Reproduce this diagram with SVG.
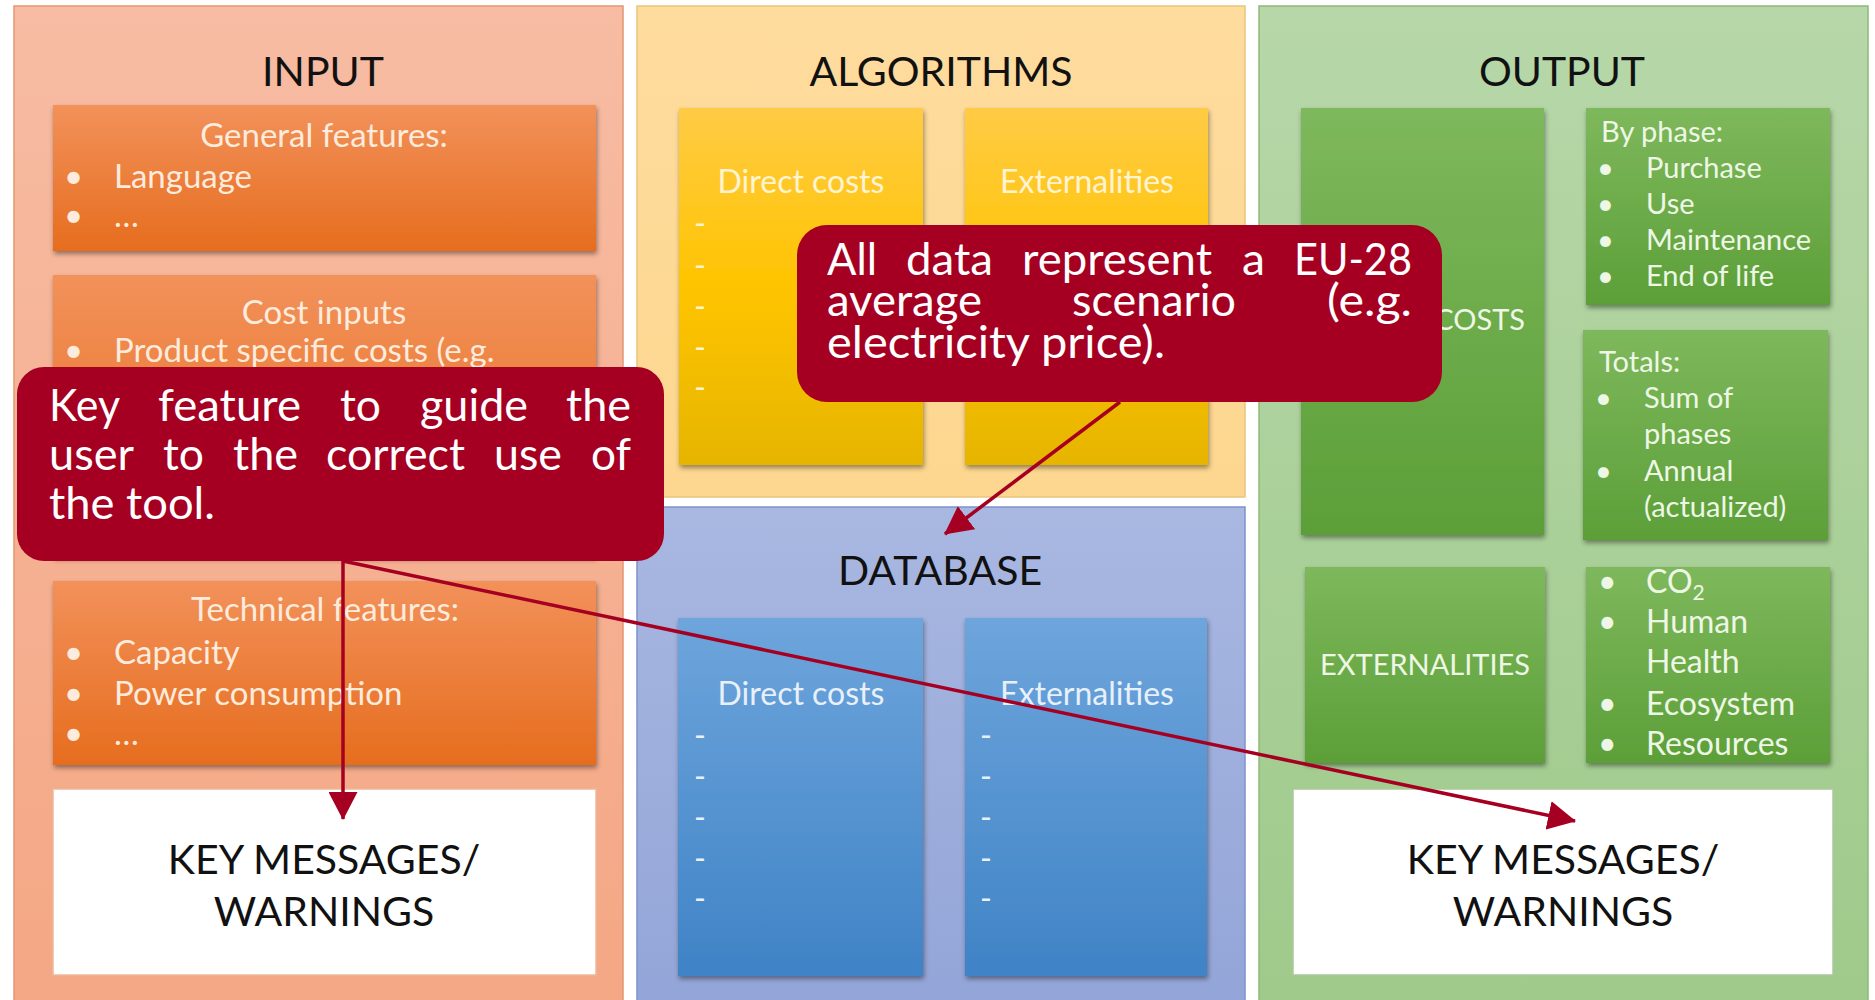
<svg xmlns="http://www.w3.org/2000/svg" width="1875" height="1000" viewBox="0 0 1875 1000">
  <defs>
    <linearGradient id="gInputPanel" x1="0" y1="0" x2="0" y2="1">
      <stop offset="0" stop-color="#F7BCA3"/>
      <stop offset="1" stop-color="#F4A784"/>
    </linearGradient>
    <linearGradient id="gAlgoPanel" x1="0" y1="0" x2="0" y2="1">
      <stop offset="0" stop-color="#FEDC9E"/>
      <stop offset="1" stop-color="#FDD78F"/>
    </linearGradient>
    <linearGradient id="gDbPanel" x1="0" y1="0" x2="0" y2="1">
      <stop offset="0" stop-color="#A9B8E1"/>
      <stop offset="1" stop-color="#93A5D8"/>
    </linearGradient>
    <linearGradient id="gOutPanel" x1="0" y1="0" x2="0" y2="1">
      <stop offset="0" stop-color="#B7D7A9"/>
      <stop offset="1" stop-color="#9FCA8B"/>
    </linearGradient>
    <linearGradient id="gOrange" x1="0" y1="0" x2="0" y2="1">
      <stop offset="0" stop-color="#F2915A"/>
      <stop offset="1" stop-color="#E66D1E"/>
    </linearGradient>
    <linearGradient id="gYellow" x1="0" y1="0" x2="0" y2="1">
      <stop offset="0" stop-color="#FFCB45"/>
      <stop offset="0.5" stop-color="#FFC400"/>
      <stop offset="1" stop-color="#E6B500"/>
    </linearGradient>
    <linearGradient id="gBlue" x1="0" y1="0" x2="0" y2="1">
      <stop offset="0" stop-color="#6EA5DC"/>
      <stop offset="1" stop-color="#3F83C6"/>
    </linearGradient>
    <linearGradient id="gGreen" x1="0" y1="0" x2="0" y2="1">
      <stop offset="0" stop-color="#7EB85C"/>
      <stop offset="1" stop-color="#5C9F38"/>
    </linearGradient>
    <filter id="shadow" x="-5%" y="-5%" width="112%" height="115%">
      <feDropShadow dx="1" dy="3" stdDeviation="2.5" flood-color="#000" flood-opacity="0.4"/>
    </filter>
    <marker id="arrow" markerUnits="userSpaceOnUse" markerWidth="28" markerHeight="29" refX="27" refY="14.5" orient="auto">
      <path d="M0,0 L28,14.5 L0,29 z" fill="#A50021"/>
    </marker>
  </defs>
  <style>
    text { font-family: Lato, "Liberation Sans", sans-serif; }
    .title { font-size: 41px; fill: #111; text-anchor: middle; }
    .key { font-size: 41px; fill: #111; text-anchor: middle; }
    .mid { text-anchor: middle; }
    .end { text-anchor: end; }
    .t-or { font-size: 33px; fill: #FDEBDD; }
    .t-ye { font-size: 32px; fill: #FFF4D2; }
    .t-bl { font-size: 32px; fill: #E8F0FA; }
    .t-gr { font-size: 29px; fill: #EEF7E6; }
    .t-gr2 { font-size: 32px; fill: #EEF7E6; }
    .call { fill: #A50021; }
    .call-t { font-size: 44px; fill: #FFFFFF; }
    .conn { stroke: #A50021; stroke-width: 3.5; fill: none; marker-end: url(#arrow); }
    .box { filter: url(#shadow); }
    .keybox { fill: #FFFFFF; }
  </style>

  <rect width="1875" height="1000" fill="#FFFFFF"/>

  <!-- INPUT column -->
  <g id="input">
    <rect x="14" y="6" width="609" height="1000" fill="url(#gInputPanel)" stroke="#E39672" stroke-width="1.5"/>
    <text class="title" x="323" y="86">INPUT</text>
    <g id="general-features">
      <rect class="box" x="53" y="105" width="543" height="146" fill="url(#gOrange)"/>
      <text class="t-or mid" x="324" y="147">General features:</text>
      <text class="t-or" x="64" y="188">•</text>
      <text class="t-or" x="114" y="188">Language</text>
      <text class="t-or" x="64" y="227">•</text>
      <text class="t-or" x="114" y="227">…</text>
    </g>
    <g id="cost-inputs">
      <rect class="box" x="53" y="275" width="543" height="282" fill="url(#gOrange)"/>
      <text class="t-or mid" x="324" y="324">Cost inputs</text>
      <text class="t-or" x="64" y="362">•</text>
      <text class="t-or" x="114" y="362">Product specific costs (e.g.</text>
    </g>
    <g id="technical-features">
      <rect class="box" x="53" y="581" width="543" height="184" fill="url(#gOrange)"/>
      <text class="t-or mid" x="325" y="621">Technical features:</text>
      <text class="t-or" x="64" y="664">•</text>
      <text class="t-or" x="114" y="664">Capacity</text>
      <text class="t-or" x="64" y="705">•</text>
      <text class="t-or" x="114" y="705">Power consumption</text>
      <text class="t-or" x="64" y="745">•</text>
      <text class="t-or" x="114" y="745">…</text>
    </g>
    <g id="input-key-messages">
      <rect class="keybox" x="53" y="789" width="543" height="186" stroke="#EDB898" stroke-width="1.5"/>
      <text class="key" x="324" y="874">KEY MESSAGES/</text>
      <text class="key" x="324" y="926">WARNINGS</text>
    </g>
  </g>

  <!-- ALGORITHMS column -->
  <g id="algorithms">
    <rect x="637" y="6" width="608" height="491" fill="url(#gAlgoPanel)" stroke="#EAC47C" stroke-width="1.5"/>
    <text class="title" x="941" y="86">ALGORITHMS</text>
    <g id="algo-direct-costs">
      <rect class="box" x="679" y="108" width="244" height="357" fill="url(#gYellow)"/>
      <text class="t-ye mid" x="801" y="193">Direct costs</text>
      <text class="t-ye" x="694" y="235">-</text>
      <text class="t-ye" x="694" y="277">-</text>
      <text class="t-ye" x="694" y="318">-</text>
      <text class="t-ye" x="694" y="359">-</text>
      <text class="t-ye" x="694" y="399">-</text>
    </g>
    <g id="algo-externalities">
      <rect class="box" x="965" y="108" width="243" height="357" fill="url(#gYellow)"/>
      <text class="t-ye mid" x="1087" y="193">Externalities</text>
    </g>
  </g>

  <!-- DATABASE column -->
  <g id="database">
    <rect x="637" y="507" width="608" height="499" fill="url(#gDbPanel)" stroke="#7E93CC" stroke-width="1.5"/>
    <text class="title" x="940" y="585">DATABASE</text>
    <g id="db-direct-costs">
      <rect class="box" x="678" y="618" width="245" height="358" fill="url(#gBlue)"/>
      <text class="t-bl mid" x="801" y="705">Direct costs</text>
      <text class="t-bl" x="694" y="747">-</text>
      <text class="t-bl" x="694" y="788">-</text>
      <text class="t-bl" x="694" y="829">-</text>
      <text class="t-bl" x="694" y="870">-</text>
      <text class="t-bl" x="694" y="910">-</text>
    </g>
    <g id="db-externalities">
      <rect class="box" x="965" y="618" width="242" height="358" fill="url(#gBlue)"/>
      <text class="t-bl mid" x="1087" y="705">Externalities</text>
      <text class="t-bl" x="980" y="747">-</text>
      <text class="t-bl" x="980" y="788">-</text>
      <text class="t-bl" x="980" y="829">-</text>
      <text class="t-bl" x="980" y="870">-</text>
      <text class="t-bl" x="980" y="910">-</text>
    </g>
  </g>

  <!-- OUTPUT column -->
  <g id="output">
    <rect x="1259" y="6" width="609" height="1000" fill="url(#gOutPanel)" stroke="#8DBA78" stroke-width="1.5"/>
    <text class="title" x="1562" y="86">OUTPUT</text>
    <g id="out-costs">
      <rect class="box" x="1301" y="108" width="243" height="427" fill="url(#gGreen)"/>
      <text class="t-gr end" x="1525" y="330">COSTS</text>
    </g>
    <g id="out-by-phase">
      <rect class="box" x="1586" y="108" width="244" height="197" fill="url(#gGreen)"/>
      <text class="t-gr" x="1601" y="142">By phase:</text>
      <text class="t-gr" x="1597" y="178">•</text>
      <text class="t-gr" x="1646" y="178">Purchase</text>
      <text class="t-gr" x="1597" y="214">•</text>
      <text class="t-gr" x="1646" y="214">Use</text>
      <text class="t-gr" x="1597" y="250">•</text>
      <text class="t-gr" x="1646" y="250">Maintenance</text>
      <text class="t-gr" x="1597" y="286">•</text>
      <text class="t-gr" x="1646" y="286">End of life</text>
    </g>
    <g id="out-totals">
      <rect class="box" x="1583" y="330" width="245" height="210" fill="url(#gGreen)"/>
      <text class="t-gr" x="1599" y="372">Totals:</text>
      <text class="t-gr" x="1595" y="408">•</text>
      <text class="t-gr" x="1644" y="408">Sum of</text>
      <text class="t-gr" x="1644" y="444">phases</text>
      <text class="t-gr" x="1595" y="481">•</text>
      <text class="t-gr" x="1644" y="481">Annual</text>
      <text class="t-gr" x="1644" y="517">(actualized)</text>
    </g>
    <g id="out-externalities">
      <rect class="box" x="1305" y="567" width="240" height="196" fill="url(#gGreen)"/>
      <text class="t-gr mid" x="1425" y="675">EXTERNALITIES</text>
    </g>
    <g id="out-impacts">
      <rect class="box" x="1586" y="567" width="244" height="196" fill="url(#gGreen)"/>
      <text class="t-gr2" x="1598" y="593">•</text>
      <text class="t-gr2" x="1646" y="593">CO<tspan font-size="21" dy="7">2</tspan></text>
      <text class="t-gr2" x="1598" y="633">•</text>
      <text class="t-gr2" x="1646" y="633">Human</text>
      <text class="t-gr2" x="1646" y="673">Health</text>
      <text class="t-gr2" x="1598" y="715">•</text>
      <text class="t-gr2" x="1646" y="715">Ecosystem</text>
      <text class="t-gr2" x="1598" y="755">•</text>
      <text class="t-gr2" x="1646" y="755">Resources</text>
    </g>
    <g id="output-key-messages">
      <rect class="keybox" x="1293" y="789" width="540" height="186" stroke="#A9C999" stroke-width="1.5"/>
      <text class="key" x="1563" y="874">KEY MESSAGES/</text>
      <text class="key" x="1563" y="926">WARNINGS</text>
    </g>
  </g>

  <!-- callout: usage guidance (justified, one text per word) -->
  <g id="callout-guide">
    <rect class="call" x="17" y="367" width="647" height="194" rx="27"/>
    <text class="call-t" x="49" y="421" textLength="71" lengthAdjust="spacingAndGlyphs">Key</text>
    <text class="call-t" x="158" y="421" textLength="143" lengthAdjust="spacingAndGlyphs">feature</text>
    <text class="call-t" x="340" y="421" textLength="41" lengthAdjust="spacingAndGlyphs">to</text>
    <text class="call-t" x="420" y="421" textLength="108" lengthAdjust="spacingAndGlyphs">guide</text>
    <text class="call-t" x="566" y="421" textLength="65" lengthAdjust="spacingAndGlyphs">the</text>
    <text class="call-t" x="49" y="470" textLength="85" lengthAdjust="spacingAndGlyphs">user</text>
    <text class="call-t" x="163" y="470" textLength="41" lengthAdjust="spacingAndGlyphs">to</text>
    <text class="call-t" x="233" y="470" textLength="65" lengthAdjust="spacingAndGlyphs">the</text>
    <text class="call-t" x="326" y="470" textLength="139" lengthAdjust="spacingAndGlyphs">correct</text>
    <text class="call-t" x="494" y="470" textLength="68" lengthAdjust="spacingAndGlyphs">use</text>
    <text class="call-t" x="591" y="470" textLength="40" lengthAdjust="spacingAndGlyphs">of</text>
    <text class="call-t" x="49" y="519" textLength="166" lengthAdjust="spacingAndGlyphs">the tool.</text>
  </g>

  <!-- callout: data scope (justified, one text per word) -->
  <g id="callout-data">
    <rect class="call" x="797" y="225" width="645" height="177" rx="30"/>
    <text class="call-t" x="827" y="275" textLength="50" lengthAdjust="spacingAndGlyphs">All</text>
    <text class="call-t" x="906" y="275" textLength="87" lengthAdjust="spacingAndGlyphs">data</text>
    <text class="call-t" x="1022" y="275" textLength="190" lengthAdjust="spacingAndGlyphs">represent</text>
    <text class="call-t" x="1242" y="275" textLength="23" lengthAdjust="spacingAndGlyphs">a</text>
    <text class="call-t" x="1294" y="275" textLength="118" lengthAdjust="spacingAndGlyphs">EU-28</text>
    <text class="call-t" x="827" y="316" textLength="155" lengthAdjust="spacingAndGlyphs">average</text>
    <text class="call-t" x="1072" y="316" textLength="164" lengthAdjust="spacingAndGlyphs">scenario</text>
    <text class="call-t" x="1327" y="316" textLength="85" lengthAdjust="spacingAndGlyphs">(e.g.</text>
    <text class="call-t" x="827" y="358" textLength="338" lengthAdjust="spacingAndGlyphs">electricity price).</text>
  </g>

  <!-- connectors -->
  <g id="connectors">
    <line class="conn" x1="343" y1="561" x2="343" y2="819"/>
    <line class="conn" x1="343" y1="561" x2="1575" y2="821"/>
    <line class="conn" x1="1120" y1="402" x2="945" y2="534"/>
  </g>
</svg>
